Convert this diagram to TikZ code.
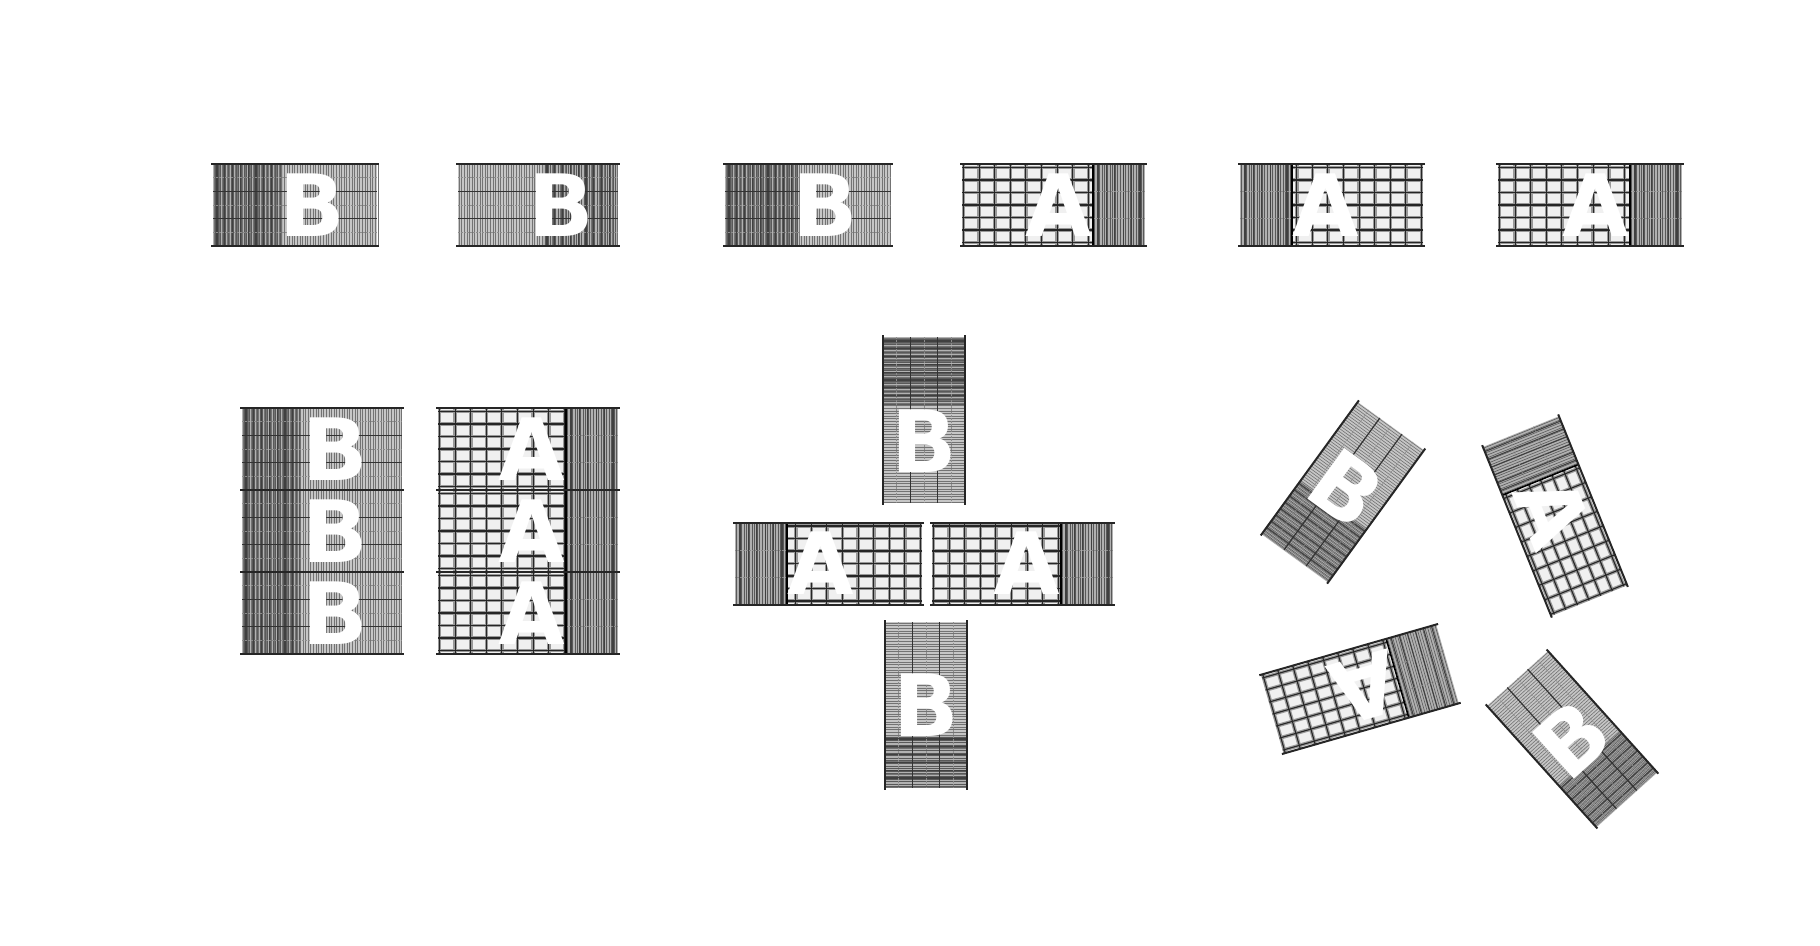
\documentclass[tikz,border=0pt]{standalone}
\usepackage{fontspec}
\newfontfamily\tilefont{DejaVu Sans}
\tikzset{
  letterstyle/.style={text=white, inner sep=0pt, font=\tilefont\fontsize{86}{86}\bfseries\selectfont},
  blight/.style={fill=gray!45},
  bdark/.style={fill=gray!60},
  bthin/.style={draw=black!55, line width=0.6pt},
  bthin2/.style={draw=black!65, line width=0.6pt},
  bacc/.style={draw=black!75, line width=1.1pt},
  bhor/.style={draw=black!80, line width=1.2pt},
  bhorf/.style={draw=black!45, line width=0.6pt, dash pattern=on 2pt off 1pt},
  tileborder/.style={draw=black!85, line width=2pt},
  alight/.style={fill=gray!12},
  agridw/.style={draw=black!40, line width=3.6pt},
  agrid/.style={draw=black!85, line width=1.1pt},
  astrip/.style={fill=gray!62},
  sepline/.style={draw=black, line width=1.6pt}
}
% B tile: x, y, rotation, length, letter offset, letter rotation, dark from, dark to, name
\newcommand{\BT}[9]{%
\begin{scope}[shift={(#1,#2)},rotate=#3]
  \pgfmathsetmacro\hl{#4/2}
  \pgfmathtruncatemacro\nl{#4/2.6}
  \pgfmathtruncatemacro\nd{(#8-(#7))/2.6-1}
  \pgfmathtruncatemacro\na{(#8-(#7))/7.8-1}
  \fill[blight] (-\hl,-41) rectangle (\hl,41);
  \fill[bdark] (#7,-41) rectangle (#8,41);
  \foreach \k in {0,...,\nl}{\draw[bthin] ({-\hl+1+\k*2.6},-41) -- ++(0,82);}
  \foreach \k in {0,...,\nd}{\draw[bthin2] ({#7+2.3+\k*2.6},-41) -- ++(0,82);}
  \foreach \k in {0,...,\na}{\draw[bacc] ({#7+4+\k*7.8},-41) -- ++(0,82);}
  \draw[bhor] (-\hl,-13.7) -- (\hl,-13.7);
  \draw[bhor] (-\hl,13.7) -- (\hl,13.7);
  \draw[bhorf] (-\hl,0) -- (\hl,0);
  \draw[bhorf] (-\hl,-27.3) -- (\hl,-27.3);
  \draw[bhorf] (-\hl,27.3) -- (\hl,27.3);
  \draw[tileborder] ({-\hl-2},-41) -- ({\hl+2},-41);
  \draw[tileborder] ({-\hl-2},41) -- ({\hl+2},41);
  \node[letterstyle,rotate=#6] (#9) at (#5,0) {B};
\end{scope}}
% A tile: x, y, rotation, length, mirror (1 strip right / -1 strip left), letter rotation, name
\newcommand{\AT}[7]{%
\begin{scope}[shift={(#1,#2)},rotate=#3,xscale=#5]
  \pgfmathsetmacro\hl{#4/2}
  \pgfmathsetmacro\sx{\hl-52}
  \pgfmathtruncatemacro\ng{(#4-54)/15.6}
  \fill[alight] (-\hl,-41) rectangle (\sx,41);
  \foreach \k in {0,...,\ng}{\draw[agridw] ({-\hl+1.5+\k*15.6},-41) -- ++(0,82);}
  \foreach \k in {0,...,6}{\draw[agridw] (-\hl,{-37.5+\k*12.5}) -- (\sx,{-37.5+\k*12.5});}
  \foreach \k in {0,...,\ng}{\draw[agrid] ({-\hl+1.5+\k*15.6},-41) -- ++(0,82);}
  \foreach \k in {0,...,6}{\draw[agrid] (-\hl,{-37.5+\k*12.5}) -- (\sx,{-37.5+\k*12.5});}
  \fill[astrip] (\sx,-41) rectangle (\hl,41);
  \foreach \k in {0,...,19}{\draw[bthin2] ({\sx+1.3+\k*2.6},-41) -- ++(0,82);}
  \foreach \k in {0,...,5}{\draw[bacc] ({\sx+5+\k*8.4},-41) -- ++(0,82);}
  \draw[bhorf] (\sx,-13.7) -- (\hl,-13.7);
  \draw[bhorf] (\sx,13.7) -- (\hl,13.7);
  \draw[sepline] (\sx,-41) -- (\sx,41);
  \draw[tileborder] ({-\hl-2},-41) -- ({\hl+2},-41);
  \draw[tileborder] ({-\hl-2},41) -- ({\hl+2},41);
  \node[letterstyle,rotate=#6] (#7) at ({\sx-34},0) {A};
\end{scope}}
\begin{document}
\begin{tikzpicture}[x=1pt,y=-1pt]
\fill[white] (0,0) rectangle (1820,945);
\useasboundingbox (0,0) rectangle (1820,945);
% top row
\BT{295}{205}{0}{164}{17}{0}{-82}{-12}{b1}
\BT{538}{205}{0}{160}{23}{0}{5}{80}{b2}
\BT{808}{205}{0}{166}{17}{0}{-83}{-10}{b3}
\AT{1053.5}{205}{0}{183}{1}{0}{a4}
\AT{1331.5}{205}{0}{183}{-1}{0}{a5}
\AT{1590}{205}{0}{184}{1}{0}{a6}
% stacked group
\BT{322}{449}{0}{160}{13}{0}{-80}{-22}{s1}
\BT{322}{531}{0}{160}{13}{0}{-80}{-22}{s2}
\BT{322}{613}{0}{160}{13}{0}{-80}{-22}{s3}
\AT{528}{449}{0}{180}{1}{0}{t1}
\AT{528}{531}{0}{180}{1}{0}{t2}
\AT{528}{613}{0}{180}{1}{0}{t3}
% cross
\BT{924}{420}{-90}{166}{21}{0}{-83}{-15}{c1}
\BT{926}{705}{-90}{166}{0}{0}{30}{83}{c2}
\AT{828.5}{563.5}{0}{187}{-1}{0}{c3}
\AT{1022.5}{563.5}{0}{181}{1}{0}{c4}
% rotated group
\BT{1343}{492}{-126}{163}{-5}{-36}{15}{82}{r1}
\AT{1555}{516}{-68}{182}{-1}{-68}{r2}
\AT{1360}{689}{16}{182}{1}{196}{r3}
\BT{1572}{739}{-48}{163}{0}{42}{25}{82}{r4}
\end{tikzpicture}
\end{document}
